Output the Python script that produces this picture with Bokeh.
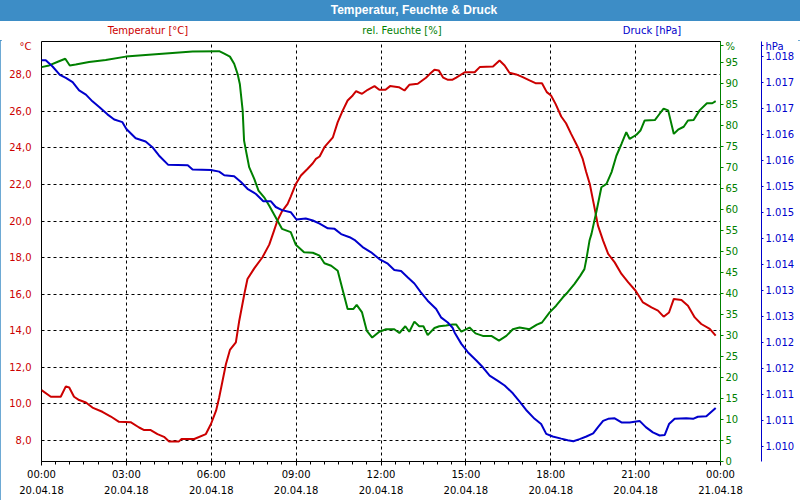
from bokeh.plotting import figure
from bokeh.models import (Range1d, LinearAxis, FixedTicker, CustomJSTickFormatter, Div)
from bokeh.layouts import column
from bokeh.embed import file_html
from bokeh.resources import INLINE

# ---------------- data ----------------
title_text = "Temperatur, Feuchte &amp; Druck"
series_names = ["Temperatur [°C]", "rel. Feuchte [%]", "Druck [hPa]"]
unit_labels = ["°C", "%", "hPa"]

time_ticks = [0, 3, 6, 9, 12, 15, 18, 21, 24]
time_minor = [0.5, 1, 1.5, 2, 2.5, 3.5, 4, 4.5, 5, 5.5, 6.5, 7, 7.5, 8, 8.5,
              9.5, 10, 10.5, 11, 11.5, 12.5, 13, 13.5, 14, 14.5, 15.5, 16, 16.5,
              17, 17.5, 18.5, 19, 19.5, 20, 20.5, 21.5, 22, 22.5, 23, 23.5]
time_labels = ["00:00\n20.04.18", "03:00\n20.04.18", "06:00\n20.04.18",
               "09:00\n20.04.18", "12:00\n20.04.18", "15:00\n20.04.18",
               "18:00\n20.04.18", "21:00\n20.04.18", "00:00\n21.04.18"]

temp_ticks = [8, 10, 12, 14, 16, 18, 20, 22, 24, 26, 28]
hum_ticks = [0, 5, 10, 15, 20, 25, 30, 35, 40, 45, 50, 55, 60, 65, 70, 75, 80, 85, 90, 95]
pres_ticks = [1010.0, 1010.5, 1011.0, 1011.5, 1012.0, 1012.5, 1013.0, 1013.5,
              1014.0, 1014.5, 1015.0, 1015.5, 1016.0, 1016.5, 1017.0, 1017.5]
# axis positions where the unit names sit (top of each axis)
unit_positions = [29.6, 99.0, 1017.7]

temp_hours = [0.0, 0.33, 0.68, 0.86, 0.98, 1.15, 1.33, 1.57, 1.8, 2.15, 2.45, 2.74,
              3.15, 3.45, 3.63, 3.86, 4.1, 4.33, 4.51, 4.86, 4.95, 5.4, 5.81, 5.99,
              6.17, 6.28, 6.4, 6.52, 6.66, 6.87, 6.99, 7.17, 7.28, 7.52, 7.81, 8.05,
              8.22, 8.34, 8.5, 8.7, 8.81, 8.99, 9.17, 9.4, 9.59, 9.7, 9.83, 10.0,
              10.3, 10.47, 10.65, 10.82, 11.0, 11.12, 11.33, 11.53, 11.77, 11.94,
              12.16, 12.32, 12.63, 12.83, 13.0, 13.3, 13.59, 13.73, 13.89, 14.04,
              14.2, 14.35, 14.53, 14.66, 14.96, 15.31, 15.49, 15.96, 16.19, 16.37,
              16.54, 16.78, 17.01, 17.25, 17.46, 17.69, 17.86, 18.01, 18.17, 18.37,
              18.54, 18.72, 18.96, 19.13, 19.25, 19.38, 19.52, 19.67, 19.85, 20.03,
              20.26, 20.5, 20.74, 21.0, 21.26, 21.56, 21.79, 21.99, 22.18, 22.35,
              22.62, 22.85, 23.09, 23.32, 23.62, 23.83]
temp_values = [10.76, 10.39, 10.39, 10.96, 10.9, 10.39, 10.21, 10.08, 9.8, 9.57, 9.31, 9.02,
               9.0, 8.71, 8.57, 8.57, 8.35, 8.2, 7.95, 7.95, 8.08, 8.08, 8.35, 8.9,
               9.63, 10.35, 11.27, 12.18, 12.95, 13.36, 14.55, 16.01, 16.83, 17.41, 18.02, 18.71,
               19.48, 20.03, 20.53, 20.94, 21.34, 22.03, 22.49, 22.85, 23.16, 23.4, 23.53, 24.04,
               24.58, 25.41, 26.05, 26.59, 26.87, 27.1, 26.96, 27.18, 27.38, 27.18,
               27.18, 27.38, 27.32, 27.14, 27.45, 27.51, 27.84, 28.05, 28.27, 28.24,
               27.84, 27.73, 27.73, 27.84, 28.14, 28.14, 28.42, 28.45, 28.78, 28.51,
               28.11, 28.02, 27.87, 27.69, 27.54, 27.54, 27.05, 26.87, 26.41, 25.72,
               25.35, 24.77, 24.04, 23.4, 22.7, 22.03, 20.94, 19.75, 18.93, 18.2,
               17.74, 17.11, 16.65, 16.19, 15.55, 15.28, 15.1, 14.77, 15.0, 15.74,
               15.68, 15.37, 14.73, 14.37, 14.1, 13.73]

hum_hours = [0.0, 0.27, 0.62, 0.84, 1.0, 1.21, 1.68, 2.27, 2.98, 3.68, 4.51, 5.34,
             6.28, 6.46, 6.66, 6.81, 6.93, 7.01, 7.11, 7.16, 7.25, 7.34, 7.52, 7.67,
             7.87, 8.05, 8.28, 8.5, 8.81, 8.99, 9.28, 9.59, 9.83, 10.0, 10.24, 10.47,
             10.65, 10.82, 11.02, 11.14, 11.33, 11.5, 11.69, 11.94, 12.18, 12.47,
             12.65, 12.86, 13.0, 13.18, 13.35, 13.5, 13.65, 13.89, 14.06, 14.3,
             14.53, 14.66, 14.84, 15.13, 15.34, 15.6, 15.9, 16.17, 16.43, 16.66,
             16.9, 17.25, 17.51, 17.69, 17.96, 18.19, 18.43, 18.6, 18.84, 19.04,
             19.19, 19.26, 19.37, 19.44, 19.62, 19.79, 19.97, 20.15, 20.32, 20.5,
             20.67, 20.79, 21.03, 21.17, 21.32, 21.68, 21.85, 21.99, 22.15, 22.35,
             22.5, 22.7, 22.85, 23.05, 23.26, 23.52, 23.71, 23.83]
hum_values = [93.9, 94.3, 95.3, 95.9, 94.3, 94.5, 95.1, 95.6, 96.4, 96.8, 97.2, 97.6,
              97.7, 97.1, 96.4, 94.7, 92.3, 89.9, 83.6, 76.4, 73.2, 70.1, 67.3, 64.5,
              62.9, 60.9, 58.1, 55.4, 54.6, 51.6, 49.8, 49.7, 49.0, 47.2, 46.6, 45.4,
              40.7, 36.3, 36.3, 37.3, 35.5, 31.1, 29.5, 30.9, 31.5, 31.5,
              30.6, 32.2, 30.9, 33.3, 32.2, 32.2, 30.1, 31.8, 32.2, 32.4,
              32.6, 32.6, 30.9, 31.9, 30.5, 29.9, 29.9, 28.8, 29.9, 31.5,
              31.9, 31.5, 32.6, 33.1, 35.5, 37.1, 39.1, 40.3, 42.3, 44.2,
              45.8, 48.2, 52.6, 54.2, 59.7, 65.3, 66.1, 68.9, 72.8, 75.6,
              78.4, 76.8, 77.8, 78.8, 81.2, 81.3, 82.8, 84.0, 83.6, 78.0,
              79.0, 79.7, 81.2, 81.3, 83.6, 85.3, 85.3, 85.8]

pres_hours = [0.0, 0.15, 0.39, 0.65, 0.86, 1.1, 1.33, 1.57, 1.8, 2.04, 2.33, 2.57,
              2.86, 3.0, 3.33, 3.68, 3.92, 4.15, 4.48, 5.17, 5.34, 5.99, 6.28, 6.46,
              6.81, 7.05, 7.28, 7.58, 7.84, 8.11, 8.28, 8.5, 8.81, 9.01, 9.34, 9.59,
              9.83, 10.12, 10.36, 10.59, 10.89, 11.06, 11.35, 11.65, 11.94, 12.24,
              12.47, 12.71, 12.94, 13.18, 13.41, 13.65, 13.95, 14.12, 14.36, 14.53,
              14.6, 14.84, 15.07, 15.37, 15.6, 15.84, 16.13, 16.37, 16.66, 16.9,
              17.13, 17.43, 17.66, 17.84, 18.07, 18.37, 18.6, 18.8, 19.02, 19.26,
              19.5, 19.67, 19.85, 20.03, 20.26, 20.5, 20.79, 21.14, 21.36, 21.61,
              21.85, 22.03, 22.18, 22.38, 22.79, 23.03, 23.2, 23.5, 23.83]
pres_values = [1017.42, 1017.42, 1017.30, 1017.14, 1017.08, 1017.00, 1016.84, 1016.76,
               1016.63, 1016.52, 1016.38, 1016.28, 1016.23, 1016.10, 1015.92, 1015.86,
               1015.75, 1015.59, 1015.41, 1015.40, 1015.32, 1015.31, 1015.28, 1015.21,
               1015.19, 1015.08, 1014.95, 1014.85, 1014.71, 1014.71, 1014.60, 1014.54,
               1014.50, 1014.36, 1014.38, 1014.34, 1014.28, 1014.19, 1014.18, 1014.08,
               1014.02, 1013.97, 1013.83, 1013.73, 1013.60, 1013.51, 1013.39, 1013.37,
               1013.25, 1013.13, 1012.96, 1012.80, 1012.64, 1012.48, 1012.38, 1012.28,
               1012.19, 1011.97, 1011.81, 1011.65, 1011.52, 1011.36, 1011.26, 1011.17,
               1011.02, 1010.86, 1010.70, 1010.53, 1010.43, 1010.24, 1010.19, 1010.15,
               1010.12, 1010.10, 1010.14, 1010.19, 1010.25, 1010.37, 1010.49, 1010.53,
               1010.54, 1010.46, 1010.46, 1010.49, 1010.37, 1010.27, 1010.21, 1010.22,
               1010.43, 1010.53, 1010.54, 1010.53, 1010.57, 1010.58, 1010.74]

# ---------------- styling ----------------
RED = "#cc0000"
GREEN = "#008000"
BLUE = "#0000cc"
BAR = "#3d8dc6"
FONT = "DejaVu Sans"
FS = "10px"
W = 800
BAR_H = 21
NAMES_H = 19
HEAD_H = BAR_H + NAMES_H
FIG_H = 500 - HEAD_H

p = figure(width=W, height=FIG_H, x_range=Range1d(0, 24), y_range=Range1d(6.85, 29.82),
           output_backend="svg", toolbar_location=None, title=None,
           min_border_left=41, min_border_top=1, min_border_bottom=39, min_border_right=80)
p.extra_y_ranges = {"hum": Range1d(0, 100), "pres": Range1d(1009.71, 1017.78)}
p.background_fill_color = "white"
p.border_fill_color = "white"
p.outline_line_color = "black"
p.outline_line_width = 1

# x axis
xa = p.xaxis[0]
xa.ticker = FixedTicker(ticks=time_ticks, minor_ticks=time_minor)
xa.major_label_overrides = {t: lab for t, lab in zip(time_ticks, time_labels)}
xa.axis_line_color = "black"
xa.major_tick_line_color = "black"
xa.minor_tick_line_color = "black"
xa.major_tick_out = 4
xa.major_tick_in = 0
xa.minor_tick_out = 3
xa.minor_tick_in = 0
xa.major_label_standoff = 3
xa.major_label_text_font = FONT
xa.major_label_text_font_size = FS
xa.major_label_text_color = "black"
xa.major_label_text_line_height = 1.5

# left (temperature) axis
ya = p.yaxis[0]
ya.ticker = FixedTicker(ticks=temp_ticks + [unit_positions[0]])
ya.formatter = CustomJSTickFormatter(code="return tick.toFixed(1).replace('.', ',');")
ya.major_label_overrides = {unit_positions[0]: unit_labels[0]}
ya.axis_line_color = None
ya.major_tick_line_color = None
ya.minor_tick_line_color = None
ya.major_label_standoff = 4
ya.major_label_text_font = FONT
ya.major_label_text_font_size = FS
ya.major_label_text_color = RED

# humidity axis
ha = LinearAxis(y_range_name="hum", ticker=FixedTicker(ticks=hum_ticks + [unit_positions[1]]))
ha.major_label_overrides = {unit_positions[1]: unit_labels[1]}
ha.axis_line_color = GREEN
ha.axis_line_width = 1
ha.major_tick_line_color = GREEN
ha.major_tick_out = 3
ha.major_tick_in = 0
ha.minor_tick_line_color = None
ha.major_label_standoff = 2
ha.major_label_text_font = FONT
ha.major_label_text_font_size = FS
ha.major_label_text_color = GREEN
ha.axis_label = " "
ha.axis_label_standoff = 6
ha.axis_label_text_font_size = "10px"
p.add_layout(ha, "right")

# pressure axis
pa = LinearAxis(y_range_name="pres", ticker=FixedTicker(ticks=pres_ticks + [unit_positions[2]]))
pa.formatter = CustomJSTickFormatter(
    code="return '1.' + String(Math.round(tick) - 1000).padStart(3, '0');")
pa.major_label_overrides = {unit_positions[2]: unit_labels[2]}
pa.axis_line_color = BLUE
pa.major_tick_line_color = BLUE
pa.major_tick_out = 2
pa.major_tick_in = 0
pa.minor_tick_line_color = None
pa.major_label_standoff = 2
pa.major_label_text_font = FONT
pa.major_label_text_font_size = FS
pa.major_label_text_color = BLUE
p.add_layout(pa, "right")

# grid
p.xgrid.ticker = FixedTicker(ticks=time_ticks)
p.ygrid.ticker = FixedTicker(ticks=temp_ticks)
for g in (p.xgrid[0], p.ygrid[0]):
    g.grid_line_color = "black"
    g.grid_line_dash = "3 3"
    g.grid_line_width = 1

# series
p.line(temp_hours, temp_values, line_color=RED, line_width=2)
p.line(hum_hours, hum_values, line_color=GREEN, line_width=2, y_range_name="hum")
p.line(pres_hours, pres_values, line_color=BLUE, line_width=2, y_range_name="pres")

# header: title bar + series names row (one HTML block)
name_spans = ""
prev_right = 0
for name, col, cx in zip(series_names, [RED, GREEN, BLUE], [148, 402, 652]):
    left = cx - 80
    name_spans += (f'<span style="display:inline-block;width:160px;text-align:center;'
                   f'margin-left:{left - prev_right}px;color:{col}">{name}</span>')
    prev_right = left + 160
header_html = (
    f'<div style="box-sizing:border-box;width:{W}px;height:{BAR_H}px;line-height:{BAR_H}px;'
    f'padding-left:28px;background:{BAR};color:white;font-weight:bold;font-size:12px;'
    f'font-family:\'Liberation Sans\',sans-serif;text-align:center;white-space:nowrap">'
    f'{title_text}</div>'
    f'<div style="width:{W}px;height:{NAMES_H}px;line-height:{NAMES_H}px;font-size:10px;'
    f'font-family:\'DejaVu Sans\';white-space:nowrap;text-align:left">{name_spans}</div>')
header = Div(text=header_html, width=W, height=HEAD_H,
             styles={"overflow": "hidden", "height": f"{HEAD_H}px", "width": f"{W}px",
                     "margin": "0", "padding": "0", "background-color": "white"})

layout = column(header, p, spacing=0,
                styles={"outline": f"2px solid {BAR}", "outline-offset": "-2px"})

open("out.html", "w").write(file_html(layout, INLINE))
